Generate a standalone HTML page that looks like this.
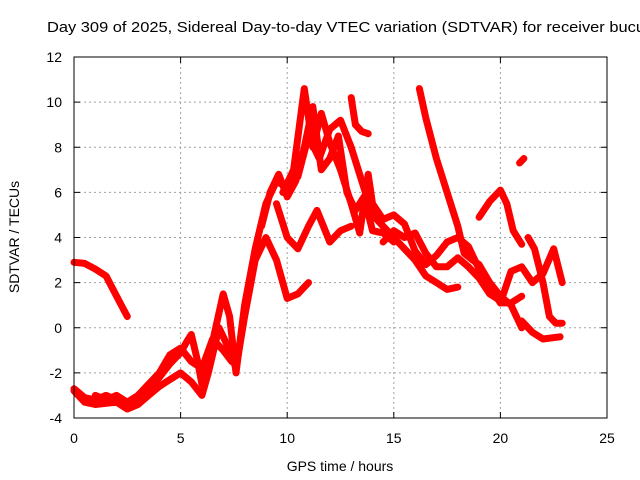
<!DOCTYPE html>
<html><head><meta charset="utf-8"><style>
body{margin:0;background:#fff;}
svg{display:block;font-family:"Liberation Sans",sans-serif;}
</style></head><body>
<svg id="chart" width="640" height="480">
<g id="grid"></g>
<g id="series"></g>
<rect x="74" y="57" width="533" height="361" fill="none" stroke="#000" stroke-width="1"/>
<g id="ticks"></g>
<text x="47" y="32" font-size="15" textLength="598" lengthAdjust="spacingAndGlyphs">Day 309 of 2025, Sidereal Day-to-day VTEC variation (SDTVAR) for receiver bucu</text>
<text x="340" y="471" font-size="14" text-anchor="middle">GPS time / hours</text>
<text x="19" y="237" font-size="14" text-anchor="middle" transform="rotate(-90 19 237)">SDTVAR / TECUs</text>
</svg>
<script>
const xTicks=[0,5,10,15,20,25];
const yTicks=[-4,-2,0,2,4,6,8,10,12];
const seriesA=[[0,2.9],[0.5,2.85],[1,2.6],[1.5,2.3],[2,1.4],[2.5,0.5]];
const seriesB=[[0,-2.7],[0.5,-3.1],[1,-3.2],[1.5,-3.0],[2,-3.2],[2.5,-3.5],[3,-3.3],[3.5,-2.8],[4,-2.2],[4.5,-1.6],[5,-1.1],[5.3,-0.6],[5.5,-0.3],[5.8,-1.5],[6,-2.5],[6.3,-1.5],[6.6,-0.2],[7,1.5],[7.3,0.5],[7.6,-2],[8,1],[8.5,3.5],[9,5.5],[9.5,6.5],[10,6.2],[10.5,6.7],[11,8.5],[11.5,7.5],[12,8.8],[12.5,9.2],[13,8],[13.5,6.5],[14,5],[14.5,4.5],[15,4],[15.5,3.5],[16,3],[16.5,2.3],[17,2],[17.5,1.7],[18,1.8]];
const seriesC=[[0,-2.8],[0.5,-3.3],[1,-3.4],[2,-3.3],[2.5,-3.6],[3,-3.4],[3.5,-3],[4,-2.6],[4.5,-2.3],[5,-2],[5.5,-2.4],[6,-3],[6.3,-2],[6.8,0],[7.3,-1],[7.6,-1.8],[8,0.5],[8.5,3],[9,4],[9.5,3],[10,1.3],[10.5,1.5],[11,2]];
const seriesD=[[9.5,5.5],[10,4],[10.5,3.5],[11,4.5],[11.4,5.2],[12,3.8],[12.5,4.3],[13,4.5]];
const seriesE=[[9.8,6],[10.3,7],[10.8,10.6],[11.2,8],[11.6,9.5],[12,8.2],[12.5,7],[13,5.5],[13.4,4.2],[13.8,6.8],[14,5.5],[14.5,4.8],[15,5],[15.5,4.6],[16,3.4],[16.5,2.8],[17,3.2],[17.5,3.8],[18,4],[18.5,3.6],[19,2.6],[19.5,1.8],[20,1.1],[20.5,1.1],[21,1.4]];
const seriesF=[[13,10.2],[13.2,9],[13.5,8.7],[13.8,8.6]];
const seriesG=[[16.2,10.6],[16.5,9.3],[17,7.5],[17.5,6],[18,4.5],[18.3,3.3],[18.7,3],[19,2.8],[19.5,2],[20,1.4],[20.5,1],[21,0]];
const seriesH=[[14.5,3.8],[15,4.3],[15.5,4],[16,4.2],[16.5,3.3],[17,2.7],[17.5,2.7],[18,3.1],[18.5,2.7],[19,2.2],[19.5,1.5],[20,1.2]];
const seriesI=[[19,4.9],[19.5,5.6],[20,6.1],[20.3,5.5],[20.6,4.3],[21,3.7]];
const seriesJ=[[20,1.1],[20.5,2.5],[21,2.7],[21.5,2],[22,2.4],[22.5,3.5],[22.9,2]];
const seriesK=[[21.3,4],[21.6,3.5],[22,2],[22.3,0.5],[22.6,0.2],[22.9,0.2]];
const seriesL=[[21,0.3],[21.5,-0.2],[22,-0.5],[22.8,-0.4]];
const seriesM=[[20.9,7.3],[21.1,7.5]];
const seriesN=[[8.8,4.5],[9.2,6],[9.6,6.8],[10,5.8],[10.4,6.5],[10.8,8],[11.2,9.8],[11.6,7],[12,7.5],[12.4,8.5],[12.8,6],[13.2,5.2],[13.6,5.8],[14,4.3],[14.5,4.2],[15,3.8]];
const seriesO=[[1,-3],[1.5,-3.2],[2,-3],[2.5,-3.3],[3,-3],[3.5,-2.5],[4,-2],[4.5,-1.2],[5,-0.9],[5.5,-1.5],[6,-1.8],[6.5,-0.5],[7,-1],[7.4,-1.5]];
const allSeries=[seriesA,seriesB,seriesC,seriesD,seriesE,seriesF,seriesG,seriesH,seriesI,seriesJ,seriesK,seriesL,seriesM,seriesN,seriesO];
const NS='http://www.w3.org/2000/svg';
const X0=74,X1=607,Y0=418,Y1=57;
function xs(t){return X0+(t-0)/(25-0)*(X1-X0);}
function ys(v){return Y0-(v+4)/(12+4)*(Y0-Y1);}
const grid=document.getElementById('grid'),ticks=document.getElementById('ticks'),sg=document.getElementById('series');
function mk(tag,at,parent){const e=document.createElementNS(NS,tag);for(const k in at)e.setAttribute(k,at[k]);parent.appendChild(e);return e;}
xTicks.forEach(t=>{const x=xs(t);
 if(t>0&&t<25){const g=mk('line',{x1:x,x2:x,y1:Y1,y2:Y0,stroke:'#a0a0a0','stroke-dasharray':'2,3'},grid);
 
 }
 const tk=mk('path',{d:`M${x},${Y0}v-6M${x},${Y1}v6`,stroke:'#000'},ticks);
 
 
 const l=mk('text',{x:x,y:443,'font-size':14,'text-anchor':'middle'},ticks);l.textContent=t;
 
 });
yTicks.forEach(v=>{const y=ys(v);
 if(v>-4&&v<12){const g=mk('line',{x1:X0,x2:X1,y1:y,y2:y,stroke:'#a0a0a0','stroke-dasharray':'2,3'},grid);
 
 }
 const tk=mk('path',{d:`M${X0},${y}h6M${X1},${y}h-6`,stroke:'#000'},ticks);
 
 
 const l=mk('text',{x:62,y:y+5,'font-size':14,'text-anchor':'end'},ticks);l.textContent=v;
 
 });
allSeries.forEach((s,i)=>{const d=s.map((p,j)=>(j?'L':'M')+xs(p[0]).toFixed(1)+','+ys(p[1]).toFixed(1)).join('');
 const p=mk('path',{d:d,fill:'none',stroke:'#ff0000','stroke-width':7,'stroke-linejoin':'round','stroke-linecap':'round'},sg);
 
 });
</script>
</body></html>
